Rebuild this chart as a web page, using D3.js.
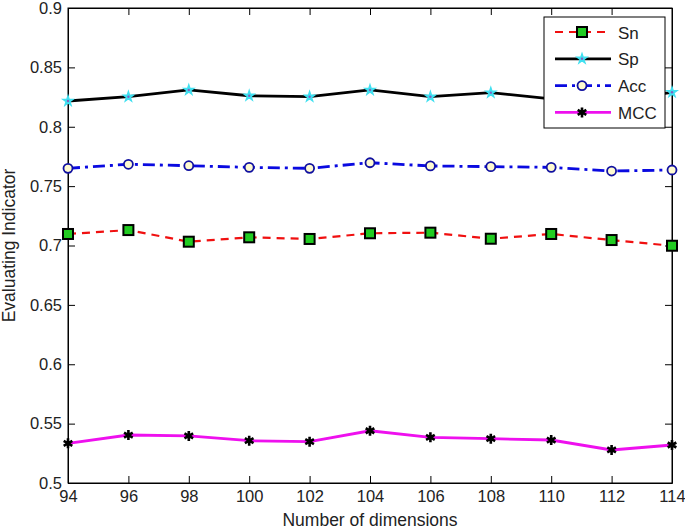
<!DOCTYPE html>
<html><head><meta charset="utf-8">
<script src="https://cdn.jsdelivr.net/npm/d3@7"></script>
<style>body{margin:0;background:#fff;}svg{display:block;font-family:"Liberation Sans",Arial,sans-serif;}</style>
</head><body><svg id="c" width="685" height="530"></svg>
<script>
const dims = [94, 96, 98, 100, 102, 104, 106, 108, 110, 112, 114];
const sn  = [0.7097, 0.713, 0.7032, 0.7069, 0.7055, 0.7103, 0.7108, 0.7057, 0.7097, 0.7046, 0.6998];
const sp  = [0.8217, 0.8253, 0.831, 0.8261, 0.8253, 0.831, 0.8253, 0.8287, 0.8234, 0.822, 0.829];
const acc = [0.765, 0.7684, 0.7672, 0.7658, 0.765, 0.7697, 0.767, 0.7664, 0.7658, 0.7627, 0.7636];
const mcc = [0.5334, 0.5404, 0.5396, 0.5356, 0.5348, 0.544, 0.5385, 0.5373, 0.5362, 0.5278, 0.532];
const yTicks = [0.5, 0.55, 0.6, 0.65, 0.7, 0.75, 0.8, 0.85, 0.9];
const xTicks = dims;
const seriesNames = ["Sn", "Sp", "Acc", "MCC"];

const svg = d3.select("#c");
const L = 68, R = 672, T = 8, B = 483;
const x = d3.scaleLinear().domain([94, 114]).range([L, R]);
const y = d3.scaleLinear().domain([0.5, 0.9]).range([B, T]);

const tl = 7, FS = 16.5;
svg.append("g").attr("transform", `translate(0,${B})`)
  .call(d3.axisBottom(x).tickValues(xTicks).tickSizeInner(-tl).tickSizeOuter(0).tickPadding(7).tickFormat(d3.format("d")));
svg.append("g").attr("transform", `translate(0,${T})`)
  .call(d3.axisTop(x).tickValues(xTicks).tickSizeInner(-tl).tickSizeOuter(0).tickFormat(""));
svg.append("g").attr("transform", `translate(${L},0)`)
  .call(d3.axisLeft(y).tickValues(yTicks).tickSizeInner(-tl).tickSizeOuter(0).tickPadding(6).tickFormat(d => String(+d.toFixed(2))));
svg.append("g").attr("transform", `translate(${R},0)`)
  .call(d3.axisRight(y).tickValues(yTicks).tickSizeInner(-tl).tickSizeOuter(0).tickFormat(""));
svg.selectAll(".domain").attr("stroke", "#000");
svg.selectAll(".tick line").attr("stroke", "#000");
svg.selectAll(".tick text").attr("font-size", FS).attr("fill", "#222").attr("font-family", "'Liberation Sans',Arial,sans-serif");
svg.append("rect").attr("x", L).attr("y", T).attr("width", R - L).attr("height", B - T)
  .attr("fill", "none").attr("stroke", "#000").attr("stroke-width", 1);

svg.append("text").attr("x", (L + R) / 2).attr("y", 526).attr("text-anchor", "middle")
  .attr("font-size", 17.5).attr("fill", "#222").text("Number of dimensions");
svg.append("text").attr("transform", `translate(15,${(T + B) / 2}) rotate(-90)`).attr("text-anchor", "middle")
  .attr("font-size", 17.5).attr("fill", "#222").text("Evaluating Indicator");

const styles = {
  Sn:  {data: sn,  color: "#f01010", dash: "8,6", width: 2.2},
  Sp:  {data: sp,  color: "#000", dash: null, width: 2.8},
  Acc: {data: acc, color: "#0a0ae0", dash: "12,5,3,5", width: 2.8},
  MCC: {data: mcc, color: "#ee10ee", dash: null, width: 2.8}
};
const line = d3.line().x((d, i) => x(dims[i])).y(d => y(d));

function marker(g, name, cx, cy) {
  if (name === "Sn") {
    g.append("rect").attr("x", cx - 5).attr("y", cy - 5).attr("width", 10).attr("height", 10)
      .attr("fill", "#22cc22").attr("stroke", "#000").attr("stroke-width", 2);
  } else if (name === "Sp") {
    g.append("path").attr("d", d3.symbol(d3.symbolStar, 28)()).attr("transform", `translate(${cx},${cy})`)
      .attr("fill", "#40e0f0").attr("stroke", "#40e0f0").attr("stroke-width", 1.5);
    g.append("circle").attr("cx", cx).attr("cy", cy).attr("r", 1.2).attr("fill", "#8060c0");
  } else if (name === "Acc") {
    g.append("circle").attr("cx", cx).attr("cy", cy).attr("r", 4.5)
      .attr("fill", "#fffbd0").attr("stroke", "#1010a0").attr("stroke-width", 1.8);
  } else {
    g.append("path").attr("d", d3.symbol(d3.symbolAsterisk || d3.symbolCross, 70)()).attr("transform", `translate(${cx},${cy})`)
      .attr("fill", "#000").attr("stroke", "#000").attr("stroke-width", 2.6);
  }
}

seriesNames.forEach(name => {
  const s = styles[name];
  const g = svg.append("g");
  g.append("path").datum(s.data).attr("d", line).attr("fill", "none")
    .attr("stroke", s.color).attr("stroke-width", s.width)
    .attr("stroke-dasharray", s.dash);
  s.data.forEach((v, i) => marker(g, name, x(dims[i]), y(v)));
});

// legend
const lg = svg.append("g");
lg.append("rect").attr("x", 544).attr("y", 17).attr("width", 121).attr("height", 111)
  .attr("fill", "#fff").attr("stroke", "#000").attr("stroke-width", 1);
seriesNames.forEach((name, i) => {
  const s = styles[name];
  const ly = 32 + i * 26.8;
  lg.append("line").attr("x1", 555).attr("x2", 611).attr("y1", ly).attr("y2", ly)
    .attr("stroke", s.color).attr("stroke-width", s.width).attr("stroke-dasharray", s.dash);
  marker(lg, name, 582, ly);
  lg.append("text").attr("x", 618).attr("y", ly + 6.5).attr("font-size", 17).attr("fill", "#222").text(name);
});
</script></body></html>
